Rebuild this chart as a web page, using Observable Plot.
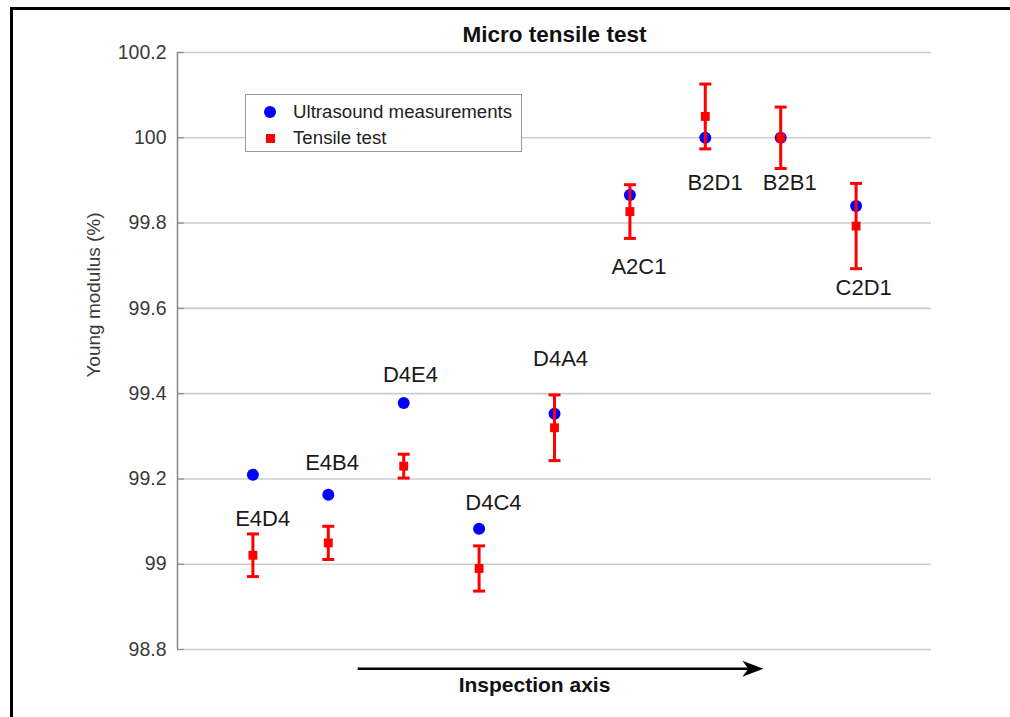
<!DOCTYPE html>
<html><head><meta charset="utf-8">
<script src="https://cdn.jsdelivr.net/npm/d3@7"></script>
<script src="https://cdn.jsdelivr.net/npm/@observablehq/plot@0.6"></script>
<style>
html,body{margin:0;padding:0;background:#fff;font-family:"Liberation Sans",Arial,sans-serif;overflow:hidden;}
#wrap{position:relative;width:1010px;height:717px;overflow:hidden;background:#fff;}
#wrap svg{position:absolute;left:0;top:0;}
.bl{position:absolute;background:#000;}
#legend{position:absolute;left:245px;top:94px;width:277px;height:58px;border:1.5px solid #999;background:#fff;box-sizing:border-box;}
.li{position:absolute;left:0;height:24px;width:100%;}
.sym{position:absolute;}
.lt{position:absolute;left:47px;font-size:18.7px;color:#222;line-height:24px;top:0;}
</style></head><body>
<div id="wrap">
  <div class="bl" style="left:10px;top:7px;width:1000px;height:3px;"></div>
  <div class="bl" style="left:10px;top:7px;width:3px;height:710px;"></div>
</div>
<script>
// ---- data ----
const samples = ["E4D4","E4B4","D4E4","D4C4","D4A4","A2C1","B2D1","B2B1","C2D1"];
const ultrasound = [99.21, 99.163, 99.378, 99.083, 99.353, 99.866, 100.0, 100.0, 99.84];
const tensile = [99.021, 99.05, 99.23, 98.99, 99.32, 99.827, 100.05, 100.0, 99.793];
const tensileErr = [0.05, 0.039, 0.028, 0.053, 0.077, 0.063, 0.076, 0.072, 0.1];
const labelX = [1.13, 2.05, 3.09, 4.19, 5.08, 6.12, 7.13, 8.12, 9.1];
const labelY = [99.105, 99.237, 99.444, 99.143, 99.481, 99.697, 99.894, 99.894, 99.648];
const yTicks = [98.8, 99, 99.2, 99.4, 99.6, 99.8, 100, 100.2];
const seriesNames = ["Ultrasound measurements", "Tensile test"];
const arrowSpan = {x1: 2.39, x2: 7.77, y: 98.755};

const rows = samples.map((s, i) => ({
  s, x: i + 1, us: ultrasound[i], tt: tensile[i],
  lo: tensile[i] - tensileErr[i], hi: tensile[i] + tensileErr[i],
  lx: labelX[i], ly: labelY[i]
}));

const cap = {draw(ctx, size){ const w = Math.sqrt(size / Math.PI); ctx.moveTo(-w, 0); ctx.lineTo(w, 0); }};
const head = {draw(ctx){ ctx.moveTo(0,0); ctx.lineTo(-21,-8); ctx.lineTo(-15,0); ctx.lineTo(-21,8); ctx.closePath(); }};
const font = '"Liberation Sans", Arial, sans-serif';

const plot = Plot.plot({
  width: 1010, height: 717,
  marginLeft: 177, marginRight: 79, marginTop: 52, marginBottom: 68,
  x: {domain: [0, 10], axis: null},
  y: {domain: [98.8, 100.2]},
  style: {fontFamily: font, background: "transparent", overflow: "visible"},
  marks: [
    Plot.gridY(yTicks, {stroke: "#cdcdcd", strokeOpacity: 1, strokeWidth: 1.6}),
    Plot.ruleY(yTicks, {x1: 0, x2: 0.09, stroke: "#8c8c8c", strokeWidth: 1.2}),
    Plot.ruleX([0], {y1: 98.8, y2: 100.2, stroke: "#8c8c8c", strokeWidth: 1.6}),
    Plot.axisY(yTicks, {tickSize: 0, tickPadding: 11, tickFormat: d => String(+d.toFixed(1)), fontSize: 19.5, fill: "#3a3a3a", label: null}),
    Plot.text(["Young modulus (%)"], {frameAnchor: "left", rotate: -90, dx: -84, dy: -56, fontSize: 19, fill: "#3a3a3a", textAnchor: "middle", lineAnchor: "middle"}),
    Plot.text(["Micro tensile test"], {frameAnchor: "top", dy: -18, fontSize: 22.5, fontWeight: "bold", fill: "#111", lineAnchor: "middle"}),
    Plot.dot(rows, {x: "x", y: "us", r: 6, fill: "#0000ff", stroke: "none"}),
    Plot.ruleX(rows, {x: "x", y1: "lo", y2: "hi", stroke: "#ff0000", strokeWidth: 3}),
    Plot.dot(rows, {x: "x", y: "lo", symbol: cap, r: 6, stroke: "#ff0000", strokeWidth: 3, fill: "none"}),
    Plot.dot(rows, {x: "x", y: "hi", symbol: cap, r: 6, stroke: "#ff0000", strokeWidth: 3, fill: "none"}),
    Plot.dot(rows, {x: "x", y: "tt", symbol: "square", r: 5, fill: "#ff0000", stroke: "none"}),
    Plot.text(rows, {x: "lx", y: "ly", text: "s", fontSize: 22, fill: "#1a1a1a", lineAnchor: "middle"}),
    Plot.link([arrowSpan], {x1: "x1", x2: d => d.x2 - 0.18, y1: "y", y2: "y", stroke: "#000", strokeWidth: 2.6}),
    Plot.dot([arrowSpan], {x: "x2", y: "y", symbol: head, fill: "#000", stroke: "none"}),
    Plot.text(["Inspection axis"], {frameAnchor: "bottom", dx: -20, dy: 36, fontSize: 21, fontWeight: "bold", fill: "#111", lineAnchor: "middle"})
  ]
});
const wrap = document.getElementById("wrap");
wrap.insertBefore(plot, wrap.firstChild);

// legend
const lg = document.createElement("div");
lg.id = "legend";
const symStyles = [
  "left:18px;top:6px;width:12px;height:12px;border-radius:50%;background:#0000ff;",
  "left:20px;top:8px;width:9px;height:9px;background:#ff0000;"
];
seriesNames.forEach((name, i) => {
  const li = document.createElement("div");
  li.className = "li";
  li.style.top = (5 + i * 26) + "px";
  const sy = document.createElement("div");
  sy.className = "sym"; sy.style.cssText += symStyles[i];
  const t = document.createElement("div");
  t.className = "lt"; t.textContent = name;
  li.appendChild(sy); li.appendChild(t);
  lg.appendChild(li);
});
wrap.appendChild(lg);
</script>
</body></html>
